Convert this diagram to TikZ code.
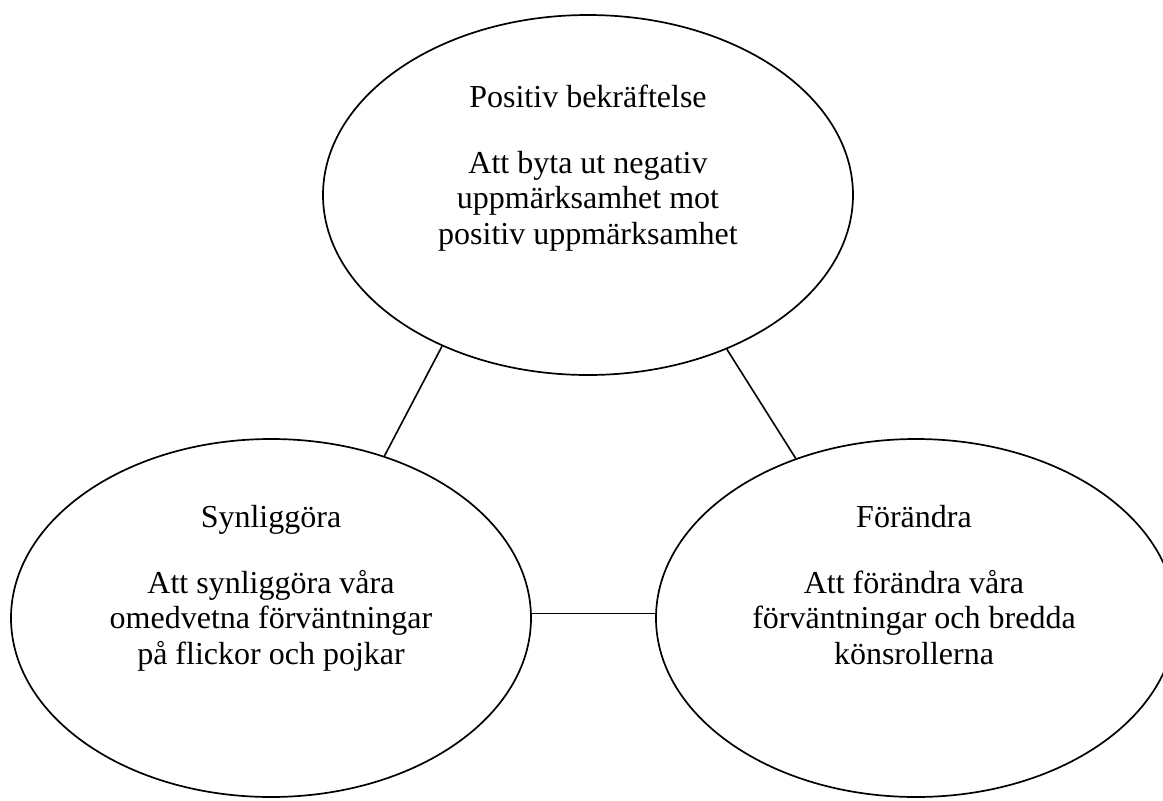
\documentclass[tikz,border=0pt]{standalone}
\usepackage{fontspec}
\setmainfont{Liberation Serif}
\usetikzlibrary{shapes.geometric}
\tikzset{
  ell/.style={ellipse, draw, line width=1.7pt, inner sep=0pt},
  conn/.style={line width=1.6pt},
  txt/.style={inner sep=0pt, anchor=base, font=\fontsize{32}{35.7}\selectfont}
}
\begin{document}
\begin{tikzpicture}[x=1pt,y=-1pt]
\useasboundingbox (0,0) rectangle (1163,801);
\clip (0,0) rectangle (1163,801);
\node[ell, minimum width=530pt, minimum height=360pt] (top) at (588,195) {};
\node[ell, minimum width=520pt, minimum height=358pt] (left) at (271,618) {};
\node[ell, minimum width=520pt, minimum height=358pt] (right) at (916,618) {};

\node[txt] (t0) at (588,107) {Positiv bekräftelse};
\node[txt] (t1) at (588,173) {Att byta ut negativ};
\node[txt] (t2) at (588,208.7) {uppmärksamhet mot};
\node[txt] (t3) at (588,244.4) {positiv uppmärksamhet};

\node[txt] (l0) at (271,527) {Synliggöra};
\node[txt] (l1) at (271,593) {Att synliggöra våra};
\node[txt] (l2) at (271,628.7) {omedvetna förväntningar};
\node[txt] (l3) at (271,664.4) {på flickor och pojkar};

\node[txt] (r0) at (914,527) {Förändra};
\node[txt] (r1) at (914,593) {Att förändra våra};
\node[txt] (r2) at (914,628.7) {förväntningar och bredda};
\node[txt] (r3) at (914,664.4) {könsrollerna};

\draw[conn] (top.226.7) -- (left.55);
\draw[conn] (top.312) -- (right.127);
\draw[conn] (left.1.1) -- (left.1.1 -| right.west);
\end{tikzpicture}
\end{document}
